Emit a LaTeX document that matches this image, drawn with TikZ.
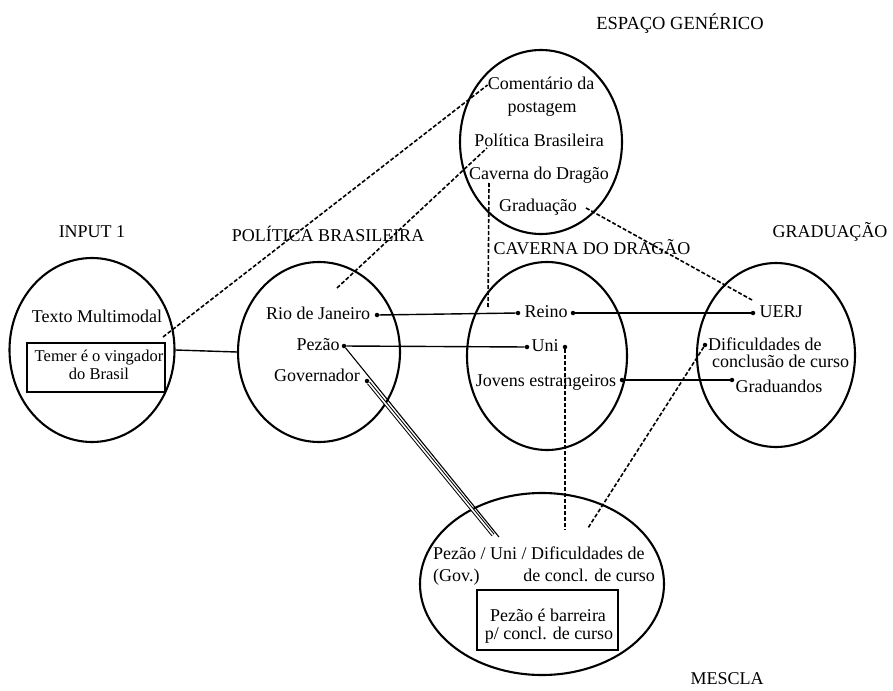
\documentclass[tikz,border=0pt]{standalone}
\usepackage{fontspec}
\setmainfont{Liberation Serif}
\usetikzlibrary{shapes.geometric}
\begin{document}
\begin{tikzpicture}[x=1pt,y=-1pt,
  circ/.style={draw, ellipse, line width=2.1pt, inner sep=0pt},
  lbl/.style={font=\fontsize{18}{19}\selectfont, inner sep=0pt, text height=12.5pt, text depth=3.5pt},
  slbl/.style={font=\fontsize{16.5}{18}\selectfont, inner sep=0pt, text height=11.5pt, text depth=3.2pt},
  ttl/.style={font=\fontsize{18.5}{19}\selectfont, inner sep=0pt, text height=12.5pt, text depth=3.5pt},
  dot/.style={circle, fill, inner sep=0pt, minimum size=4.5pt},
  link/.style={line width=1.4pt},
  dsh/.style={line width=1.6pt, dash pattern=on 4pt off 2pt},
  bx/.style={draw, line width=2.4pt, inner sep=0pt}]
\useasboundingbox (0,0) rectangle (893,690);
\fill[white] (0,0) rectangle (893,690);

% titles
\node[ttl] (tGen) at (680,25) {ESPAÇO GENÉRICO};
\node[lbl] (tIn) at (92,233) {INPUT 1};
\node[lbl] (tPol) at (328,237) {POLÍTICA BRASILEIRA};
\node[lbl] (tCav) at (592,250) {CAVERNA DO DRAGÃO};
\node[lbl] (tGrad) at (830,233) {GRADUAÇÃO};
\node[lbl] (tMes) at (727,680) {MESCLA};

% circles
\node[circ, minimum width=162pt, minimum height=184pt] (c0) at (541,142) {};
\node[circ, minimum width=165pt, minimum height=184pt] (c1) at (92,350) {};
\node[circ, minimum width=162pt, minimum height=180pt] (c2) at (319,352) {};
\node[circ, minimum width=160pt, minimum height=188pt] (c3) at (547,356) {};
\node[circ, minimum width=158pt, minimum height=184pt] (c4) at (776,355) {};
\node[circ, minimum width=244pt, minimum height=182pt] (cm) at (542,584) {};

% generic space texts
\node[lbl] (comA) at (541,85) {Comentário da};
\node[lbl] (comB) at (542,108) {postagem};
\node[lbl] (polG) at (539,142) {Política Brasileira};
\node[lbl] (cavG) at (539,175) {Caverna do Dragão};
\node[lbl] (graG) at (538,207) {Graduação};

% input 1
\node[lbl] (tmm) at (97,318) {Texto Multimodal};
\node[bx, minimum width=138pt, minimum height=49pt] (b1) at (96,367.5) {};
\node[slbl] (b1a) at (99,357) {Temer é o vingador};
\node[slbl] (b1b) at (99,375) {do Brasil};

% politica
\node[lbl] (rio) at (318,315) {Rio de Janeiro};
\node[lbl] (pez) at (318,346) {Pezão};
\node[lbl] (gov) at (317,377) {Governador};

% caverna
\node[lbl] (rei) at (546,313) {Reino};
\node[lbl] (uni) at (545,347) {Uni};
\node[lbl] (jov) at (546,382) {Jovens estrangeiros};

% graduacao
\node[inner sep=0pt, anchor=north west, align=left, font=\fontsize{18}{17}\selectfont] (dif) at (708,338)
  {Dificuldades de\\\hspace*{4pt}conclusão de curso};
\node[lbl] (uerj) at (781,313) {UERJ};
\node[lbl] (grd) at (779,388) {Graduandos};

% mescla
\node[lbl, anchor=west] (mA) at (433,555) {Pezão / Uni / Dificuldades de};
\node[lbl, anchor=west] (mB) at (433,577) {(Gov.)};
\node[lbl, anchor=east] (mC) at (655,577) {de concl. de curso};
\node[bx, minimum width=141pt, minimum height=60pt] (b2) at (547.5,620) {};
\node[lbl] (b2a) at (548,617) {Pezão é barreira};
\node[lbl] (b2b) at (549,635) {p/ concl. de curso};

% dots
\node[dot] (rioD) at (377,315) {};
\node[dot] (reinoL) at (518,313) {};
\node[dot] (reinoR) at (573,313) {};
\node[dot] (uerjD) at (753,313) {};
\node[dot] (pezD) at (344,346) {};
\node[dot] (uniL) at (527,347) {};
\node[dot] (uniR) at (565,347) {};
\node[dot] (jovD) at (622,380) {};
\node[dot] (gradD) at (732,380) {};
\node[dot] (govD) at (367,381) {};
\node[dot] (difD) at (705,345) {};

% coordinates for free ends
\coordinate (tmE) at (163,337);
\coordinate (pbS) at (337,288);
\coordinate (pbE) at (487,148);
\coordinate (cdT) at (489,183);
\coordinate (cdB) at (488,307);
\coordinate (grS) at (586,208);
\coordinate (uerjT) at (752,300);
\coordinate (uniB) at (565,530);
\coordinate (difB2) at (588,528);
\coordinate (pezE) at (499,537);
\coordinate (govE) at (493,535);

% solid connectors
\draw[link] (c1.east) -- (c2.west);
\draw[link] (rioD) -- (reinoL);
\draw[link] (reinoR) -- (uerjD);
\draw[link] (pezD) -- (uniL);
\draw[link] (jovD) -- (gradD);
\draw[line width=1.1pt] (pezD) -- (pezE);
\draw[line width=1pt, double, double distance=1.6pt] (govD) -- (govE);

% dashed connectors
\draw[dsh] (tmE) -- (comA.west);
\draw[dsh] (pbS) -- (pbE);
\draw[dsh] (cdT) -- (cdB);
\draw[dsh] (grS) -- (uerjT);
\draw[dsh] (uniR) -- (uniB);
\draw[dsh] (difD) -- (difB2);
\end{tikzpicture}
\end{document}
